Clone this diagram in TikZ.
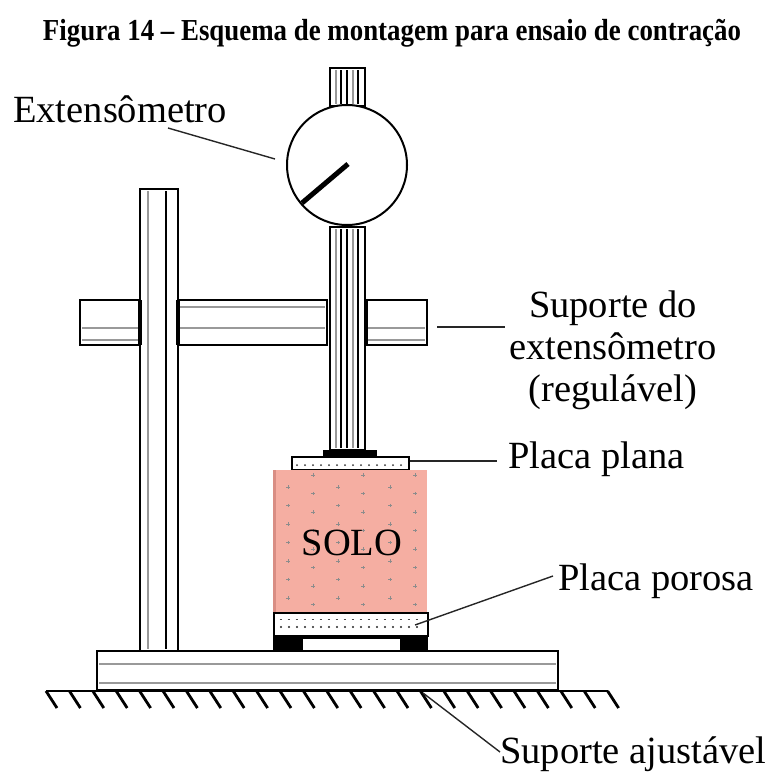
\documentclass[tikz,border=0pt]{standalone}
\usepackage{fontspec}
\setmainfont{Liberation Serif}
\usepackage{graphicx}
\definecolor{soil}{HTML}{F5AEA2}
\definecolor{soilshade}{HTML}{D98E84}
\begin{document}
\begin{tikzpicture}[x=1pt,y=-1pt,
  frame/.style={draw=black,line width=2.6pt,fill=white},
  greyline/.style={draw=black!40,line width=1.2pt},
  thinblack/.style={draw=black,line width=1.1pt},
  leader/.style={draw=black!85,line width=1.4pt},
  hatch/.style={draw=black,line width=2.8pt},
  soilmark/.style={draw=black!45,line width=0.9pt},
  lbl/.style={font=\fontsize{38.5}{40}\selectfont,inner sep=0pt,anchor=base west},
]
\useasboundingbox (0,0) rectangle (773,771);

% title
\node[font=\bfseries\fontsize{30.5}{32}\selectfont,anchor=base,inner sep=0pt] (title) at (392,40)
  {\resizebox{698pt}{\height}{Figura 14 – Esquema de montagem para ensaio de contração}};

% base plate
\draw[frame] (97,651) rectangle (558,690);
\draw[greyline] (99,664) -- (556,664) (99,683) -- (556,683);

% ground with hatching
\draw[hatch] (46,691) -- (608,691);
\foreach \i in {0,...,24}
  \draw[hatch] ({46+\i*23.4},691) -- ++(11,17);

% left column
\draw[frame] (140,189) rectangle (178,651);
\draw[greyline] (148,191) -- (148,649);
\draw[thinblack] (166,191) -- (166,649);

% adjustable arm
\draw[frame] (80,300) rectangle (140,345);
\draw[frame] (178,300) rectangle (327,345);
\draw[frame] (365,300) rectangle (427,345);
\draw[greyline] (82,328) -- (138,328) (82,340) -- (138,340);
\draw[greyline] (180,307) -- (325,307) (180,328) -- (325,328);
\draw[greyline] (367,328) -- (425,328) (367,340) -- (425,340);
\draw[line width=4pt] (140,300) -- (140,345) (178,300) -- (178,345) (366,300) -- (366,345);

% gauge spindle
\draw[frame,line width=2pt] (330,227) rectangle (365,450);
\foreach \x in {336,353} \draw[greyline] (\x,229) -- (\x,448);
\foreach \x in {341,347,358} \draw[thinblack] (\x,229) -- (\x,448);
\fill[black] (323,450) rectangle (377,457);

% flat plate
\draw[frame,line width=2pt] (292,457) rectangle (409,470);
\foreach \x in {297,305,...,405} \fill[black!80] (\x,465) circle (1);

% soil specimen
\fill[soil] (273,470) rectangle (427,613);
\fill[soilshade] (273,470) rectangle (276,613);
\foreach \x in {288,338,390}
  \foreach \y in {487,505.5,524,542.5,561,579.5,598}
    \draw[soilmark] (\x-1.6,\y) -- (\x+1.6,\y) (\x,\y-1.6) -- (\x,\y+1.6);
\foreach \x in {313,363,415}
  \foreach \y in {475,493.5,512,530.5,549,567.5,586,604.5}
    \draw[soilmark] (\x-1.6,\y) -- (\x+1.6,\y) (\x,\y-1.6) -- (\x,\y+1.6);
\node[font=\fontsize{38.5}{40}\selectfont,anchor=base,inner sep=0pt] (solo) at (352,555) {SOLO};

% porous plate and feet
\fill[black] (273,636) rectangle (428,651);
\fill[white] (303,639) rectangle (400,649.5);
\draw[frame,line width=2.4pt] (274,613) rectangle (428,636);
\foreach \x in {281,289,...,423} {
  \draw[black!70,line width=0.9pt] (\x-1.3,619) -- (\x+1.3,619);
  \fill[black!85] (\x,627) circle (1.2);
}

% dial gauge
\draw[frame,line width=2pt] (330,68) rectangle (365,106);
\foreach \x in {336,353} \draw[greyline] (\x,70) -- (\x,104);
\foreach \x in {341,347,358} \draw[thinblack] (\x,70) -- (\x,104);
\draw[line width=2pt,fill=white] (347,165) circle (60);
\draw[line width=5pt] (302,203) -- (348,164);

% labels and leaders
\node[lbl] (lext) at (13,122) {Extensômetro};
\coordinate (extA) at (168,128);
\coordinate (extB) at (275,159);
\draw[leader] (extA) -- (extB);

\node[lbl,anchor=base] (lsup1) at (613,317) {Suporte do};
\node[lbl,anchor=base] (lsup2) at (613,359) {extensômetro};
\node[lbl,anchor=base] (lsup3) at (613,401) {(regulável)};
\coordinate (supA) at (437,327);
\coordinate (supB) at (505,327);
\draw[leader] (supA) -- (supB);

\node[lbl] (lplana) at (508,468) {Placa plana};
\coordinate (planaA) at (410,461);
\coordinate (planaB) at (497,461);
\draw[leader] (planaA) -- (planaB);

\node[lbl] (lporosa) at (558,590) {Placa porosa};
\coordinate (porA) at (553,576);
\coordinate (porB) at (415,625);
\draw[leader] (porA) -- (porB);

\node[lbl] (lajust) at (500,763) {Suporte ajustável};
\coordinate (ajA) at (500,752);
\coordinate (ajB) at (423,693);
\draw[leader] (ajA) -- (ajB);
\end{tikzpicture}
\end{document}
